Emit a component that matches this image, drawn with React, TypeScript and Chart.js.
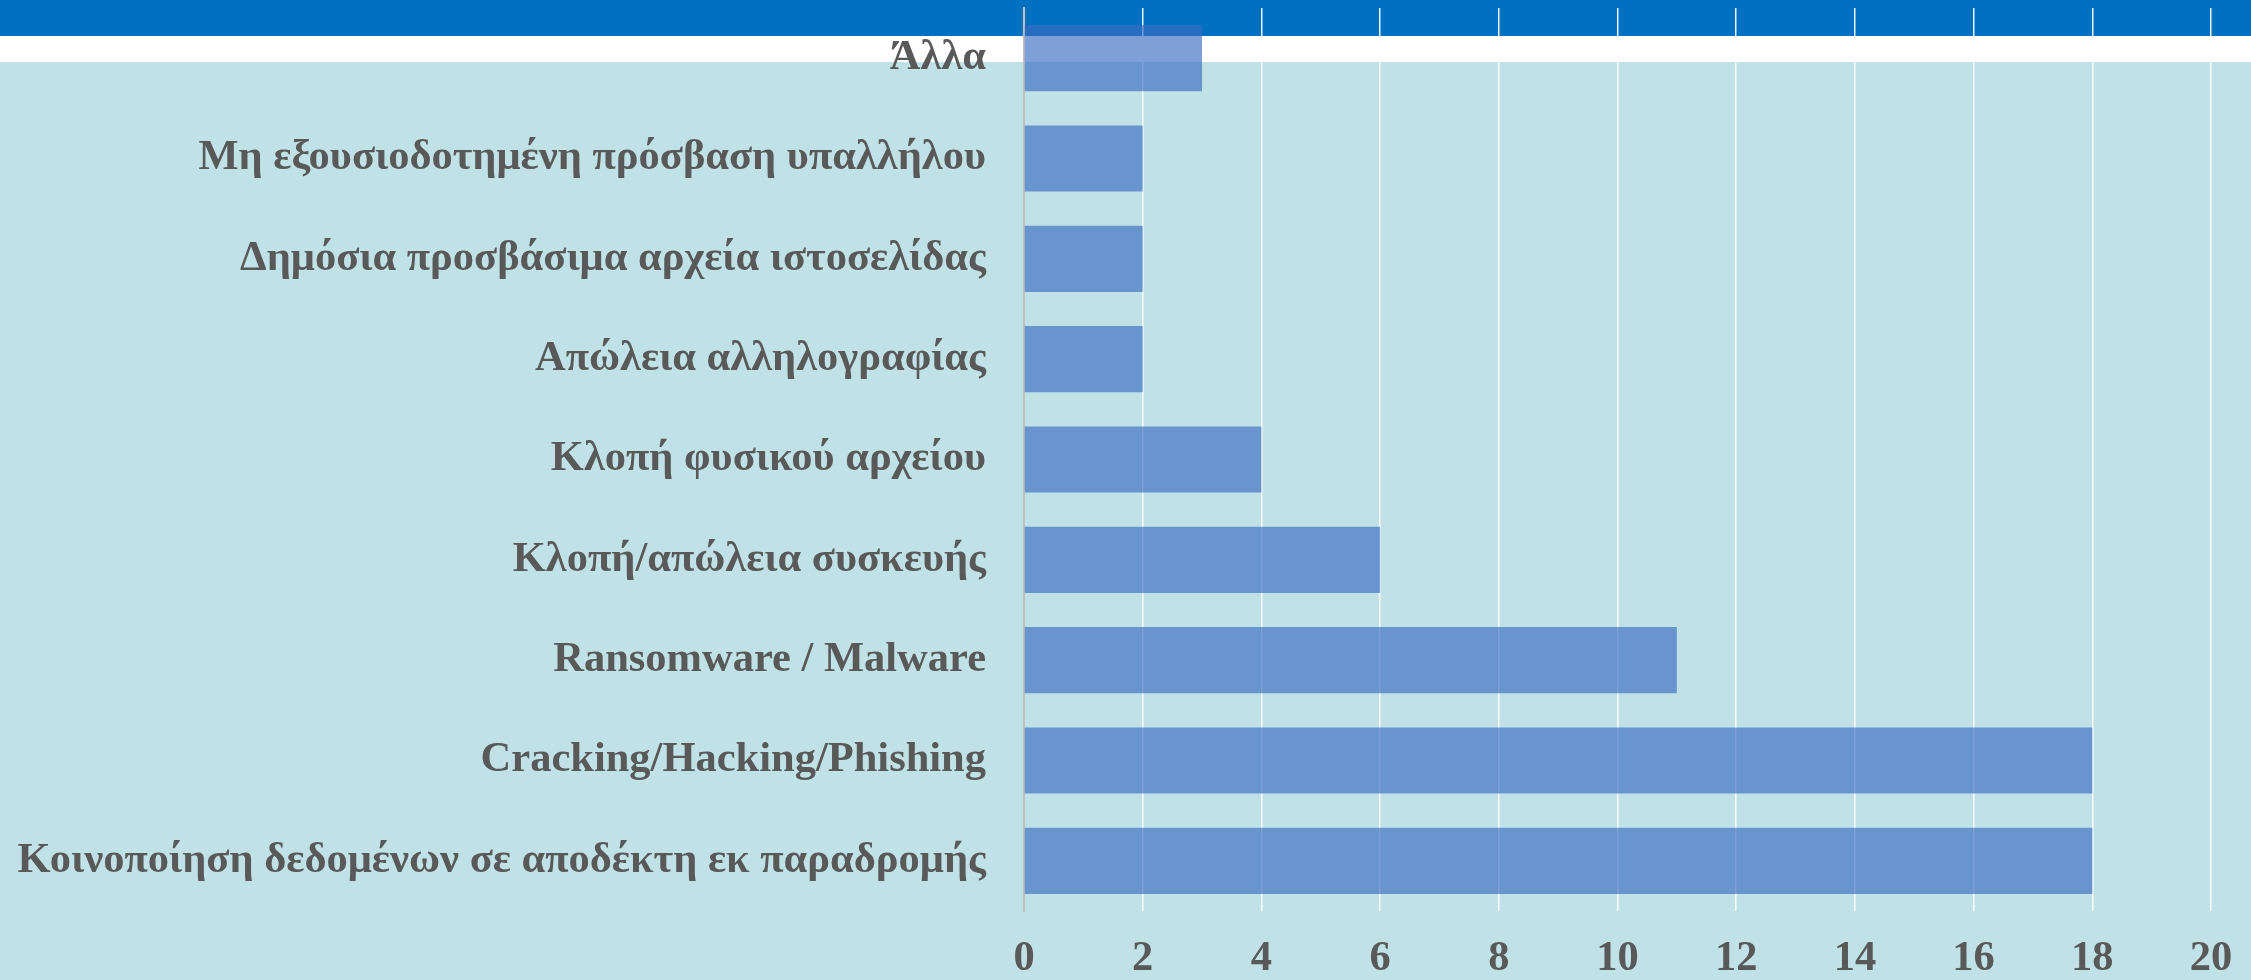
import React, { useEffect, useRef } from "react";
import { Chart, registerables } from "chart.js";

Chart.register(...registerables);

const categories = [
  "Άλλα",
  "Μη εξουσιοδοτημένη πρόσβαση υπαλλήλου",
  "Δημόσια προσβάσιμα αρχεία ιστοσελίδας",
  "Απώλεια αλληλογραφίας",
  "Κλοπή φυσικού αρχείου",
  "Κλοπή/απώλεια συσκευής",
  "Ransomware / Malware",
  "Cracking/Hacking/Phishing",
  "Κοινοποίηση δεδομένων σε αποδέκτη εκ παραδρομής",
];
const values = [3, 2, 2, 2, 4, 6, 11, 18, 18];
const xMin = 0;
const xMax = 20;
const xStep = 2;

export default function App() {
  const ref = useRef<HTMLCanvasElement>(null);
  useEffect(() => {
    const font = { family: "'Liberation Serif', 'Times New Roman', serif", weight: "bold" as const, size: 42.5 };
    const chart = new Chart(ref.current!, {
      type: "bar",
      data: {
        labels: categories,
        datasets: [
          {
            data: values,
            backgroundColor: "rgba(59,109,194,0.66)",
            borderWidth: 0,
            barPercentage: 0.66,
            categoryPercentage: 1,
          },
        ],
      },
      options: {
        indexAxis: "y",
        animation: false,
        responsive: false,
        maintainAspectRatio: false,
        layout: { autoPadding: false, padding: { top: 8, right: 40, left: 0, bottom: 0 } },
        plugins: { legend: { display: false }, tooltip: { enabled: false } },
        scales: {
          x: {
            min: xMin,
            max: xMax,
            ticks: { stepSize: xStep, color: "#595959", font, padding: 23, maxRotation: 0 },
            grid: { color: "rgba(255,255,255,0.9)", lineWidth: 1.5, drawTicks: false },
            border: { display: false },
            afterFit: (s: any) => {
              s.height = 69;
              s.paddingLeft = 0;
              s.paddingRight = 0;
            },
          },
          y: {
            ticks: { color: "#595959", font, padding: 38 },
            grid: { display: false, drawTicks: false },
            border: { display: true, color: "#bfbfbf", width: 2 },
            afterFit: (s: any) => {
              s.width = 1024;
              s.paddingTop = 0;
              s.paddingBottom = 0;
            },
          },
        },
      },
    });
    return () => chart.destroy();
  }, []);
  return (
    <div
      style={{
        position: "absolute",
        left: 0,
        top: 0,
        width: 2251,
        height: 980,
        background: "linear-gradient(to bottom, #0070C0 0px, #0070C0 36px, #ffffff 36px, #ffffff 62px, #C0E2E6 62px, #C0E2E6 100%)",
      }}
    >
      <canvas ref={ref} width={2251} height={980} style={{ display: "block" }} />
    </div>
  );
}
